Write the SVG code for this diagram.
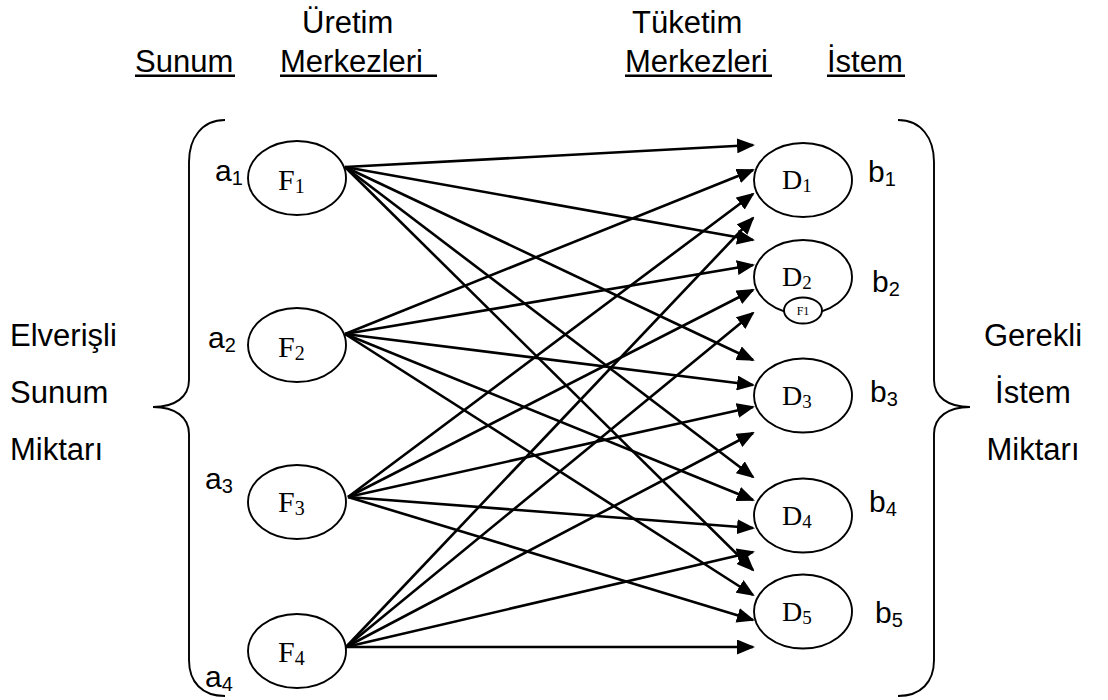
<svg xmlns="http://www.w3.org/2000/svg" width="1108" height="700" viewBox="0 0 1108 700">
  <style>
    .sans { font-family: "Liberation Sans", Arial, sans-serif; fill: #000; }
    .head { font-size: 31px; }
    .side { font-size: 31px; }
    .lab { font-size: 30px; }
    .serif { font-family: "Liberation Serif", "Times New Roman", serif; fill: #000; }
    .node { fill: #fff; stroke: #000; stroke-width: 1.9; }
    .brace { fill: none; stroke: #000; stroke-width: 1.9; }
    .uline { stroke: #000; stroke-width: 2.5; }
    .flow { stroke: #000; stroke-width: 2.6; fill: none; marker-end: url(#arrow); }
  </style>
  <defs>
    <marker id="arrow" markerUnits="userSpaceOnUse" markerWidth="18" markerHeight="15" refX="16" refY="7.5" orient="auto">
      <path d="M0,0 L18,7.5 L0,15 z" fill="#000"/>
    </marker>
  </defs>
  <rect width="1108" height="700" fill="#fff"/>

  <!-- column headings -->
  <g id="headings" class="sans head">
    <text x="302" y="33">Üretim</text>
    <text x="135" y="72">Sunum</text>
    <text x="280" y="72">Merkezleri</text>
    <text x="632" y="33">Tüketim</text>
    <text x="625" y="72">Merkezleri</text>
    <text x="827" y="72">İstem</text>
    <line class="uline" x1="135" y1="75.7" x2="235" y2="75.7"/>
    <line class="uline" x1="280" y1="75.7" x2="437" y2="75.7"/>
    <line class="uline" x1="625" y1="75.7" x2="772" y2="75.7"/>
    <line class="uline" x1="827" y1="75.7" x2="905" y2="75.7"/>
  </g>

  <!-- side captions -->
  <g id="supply-caption" class="sans side">
    <text x="10" y="346">Elverişli</text>
    <text x="10" y="403">Sunum</text>
    <text x="10" y="460">Miktarı</text>
  </g>
  <g id="demand-caption" class="sans side" text-anchor="middle">
    <text x="1033" y="346">Gerekli</text>
    <text x="1033" y="403">İstem</text>
    <text x="1033" y="460">Miktarı</text>
  </g>

  <!-- curly braces -->
  <path id="supply-brace" class="brace" d="M225,120 C202,120 189,138 189,162 L189,380 C189,397 175,407 153,407 C175,407 189,417 189,434 L189,660 C189,682 202,696 225,696"/>
  <path id="demand-brace" class="brace" d="M898,120 C921,120 934,138 934,162 L934,380 C934,397 948,407 970,407 C948,407 934,417 934,434 L934,660 C934,682 921,696 898,696"/>

  <!-- supply / demand amounts -->
  <g id="supply-amounts" class="sans lab">
    <text x="215" y="181">a<tspan font-size="20" dy="4">1</tspan></text>
    <text x="208" y="348">a<tspan font-size="20" dy="4">2</tspan></text>
    <text x="205" y="489">a<tspan font-size="20" dy="4">3</tspan></text>
    <text x="205" y="687">a<tspan font-size="20" dy="4">4</tspan></text>
  </g>
  <g id="demand-amounts" class="sans lab">
    <text x="868" y="182">b<tspan font-size="20" dy="4">1</tspan></text>
    <text x="872" y="292">b<tspan font-size="20" dy="4">2</tspan></text>
    <text x="870" y="402">b<tspan font-size="20" dy="4">3</tspan></text>
    <text x="869" y="512">b<tspan font-size="20" dy="4">4</tspan></text>
    <text x="875" y="623">b<tspan font-size="20" dy="4">5</tspan></text>
  </g>

  <!-- shipments from every production centre to every consumption centre -->
  <g id="connectors">
    <line class="flow" x1="345" y1="167" x2="753" y2="145"/>
    <line class="flow" x1="345" y1="167" x2="753" y2="240"/>
    <line class="flow" x1="345" y1="167" x2="753" y2="360"/>
    <line class="flow" x1="345" y1="167" x2="753" y2="477"/>
    <line class="flow" x1="345" y1="167" x2="753" y2="570"/>

    <line class="flow" x1="345" y1="334" x2="753" y2="170"/>
    <line class="flow" x1="345" y1="334" x2="753" y2="265"/>
    <line class="flow" x1="345" y1="334" x2="753" y2="385"/>
    <line class="flow" x1="345" y1="334" x2="753" y2="500"/>
    <line class="flow" x1="345" y1="334" x2="753" y2="595"/>

    <line class="flow" x1="348" y1="497" x2="753" y2="194"/>
    <line class="flow" x1="348" y1="497" x2="753" y2="290"/>
    <line class="flow" x1="348" y1="497" x2="753" y2="407"/>
    <line class="flow" x1="348" y1="497" x2="753" y2="528"/>
    <line class="flow" x1="348" y1="497" x2="753" y2="620"/>

    <line class="flow" x1="346" y1="647" x2="753" y2="218"/>
    <line class="flow" x1="346" y1="647" x2="753" y2="313"/>
    <line class="flow" x1="346" y1="647" x2="753" y2="433"/>
    <line class="flow" x1="346" y1="647" x2="753" y2="552"/>
    <line class="flow" x1="346" y1="647" x2="753" y2="647"/>
  </g>

  <!-- production centres -->
  <g id="F1">
    <ellipse class="node" cx="297" cy="178" rx="49" ry="37"/>
    <text class="serif" x="278" y="190" font-size="30">F<tspan font-size="20" dy="3">1</tspan></text>
  </g>
  <g id="F2">
    <ellipse class="node" cx="297" cy="345" rx="49" ry="37"/>
    <text class="serif" x="278" y="357" font-size="30">F<tspan font-size="20" dy="3">2</tspan></text>
  </g>
  <g id="F3">
    <ellipse class="node" cx="297" cy="502" rx="49" ry="37"/>
    <text class="serif" x="278" y="512" font-size="30">F<tspan font-size="20" dy="3">3</tspan></text>
  </g>
  <g id="F4">
    <ellipse class="node" cx="297" cy="651" rx="49" ry="37"/>
    <text class="serif" x="278" y="662" font-size="30">F<tspan font-size="20" dy="3">4</tspan></text>
  </g>

  <!-- consumption centres -->
  <g id="D1">
    <ellipse class="node" cx="803" cy="180" rx="49" ry="37"/>
    <text class="serif" x="782" y="189" font-size="28">D<tspan font-size="19" dy="3">1</tspan></text>
  </g>
  <g id="D2">
    <ellipse class="node" cx="803" cy="277" rx="49" ry="37"/>
    <text class="serif" x="782" y="286" font-size="28">D<tspan font-size="19" dy="3">2</tspan></text>
  </g>
  <g id="D2-tag">
    <ellipse class="node" cx="803" cy="310.5" rx="19" ry="13" stroke-width="1.2"/>
    <text class="serif" x="803" y="315" font-size="12" text-anchor="middle">F1</text>
  </g>
  <g id="D3">
    <ellipse class="node" cx="803" cy="395.5" rx="49" ry="37"/>
    <text class="serif" x="782" y="405" font-size="28">D<tspan font-size="19" dy="3">3</tspan></text>
  </g>
  <g id="D4">
    <ellipse class="node" cx="803" cy="515.5" rx="49" ry="37"/>
    <text class="serif" x="782" y="525" font-size="28">D<tspan font-size="19" dy="3">4</tspan></text>
  </g>
  <g id="D5">
    <ellipse class="node" cx="803" cy="611.5" rx="49" ry="37"/>
    <text class="serif" x="782" y="621" font-size="28">D<tspan font-size="19" dy="3">5</tspan></text>
  </g>
</svg>
